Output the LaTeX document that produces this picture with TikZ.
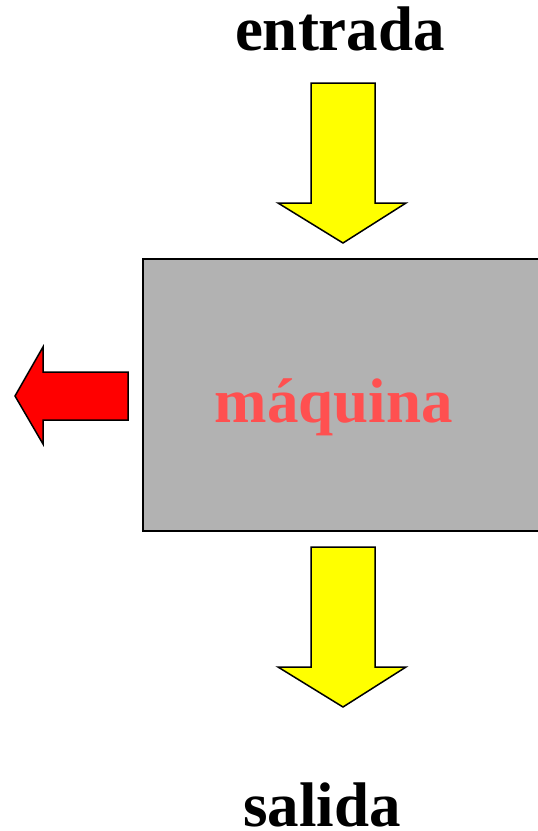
\documentclass[tikz,border=0pt]{standalone}
\usepackage{fontspec}
\setmainfont{Liberation Serif}
\definecolor{arrowyellow}{HTML}{FFFF00}
\definecolor{arrowred}{HTML}{FF0000}
\definecolor{boxgray}{HTML}{B2B2B2}
\definecolor{textred}{HTML}{FF5050}
\begin{document}
\begin{tikzpicture}[x=1pt,y=-1pt,
  bigtext/.style={font=\fontsize{63}{70}\selectfont\bfseries, inner sep=0pt, anchor=base},
  yarrow/.style={fill=arrowyellow, draw=black, line width=1.5pt, line join=miter},
  rarrow/.style={fill=arrowred, draw=black, line width=1.5pt, line join=miter},
  machine/.style={fill=boxgray, draw=black, line width=2pt}]
\useasboundingbox (0,0) rectangle (538,831);
% machine box
\draw[machine] (143,259) rectangle (548,531);
\node[bigtext, text=textred] (maq) at (334,422) {máquina};
% labels
\node[bigtext] (entrada) at (340,50) {entrada};
\node[bigtext] (salida) at (322,826) {salida};
% top arrow
\draw[yarrow] (311,83) -- (375,83) -- (375,203) -- (406,203) -- (343,243) -- (278,203) -- (311,203) -- cycle;
% bottom arrow
\draw[yarrow] (311,547) -- (375,547) -- (375,667) -- (406,667) -- (343,707) -- (278,667) -- (311,667) -- cycle;
% left red arrow
\draw[rarrow] (128,372) -- (128,420) -- (43,420) -- (43,444) -- (15,396) -- (43,347) -- (43,372) -- cycle;
\end{tikzpicture}
\end{document}
